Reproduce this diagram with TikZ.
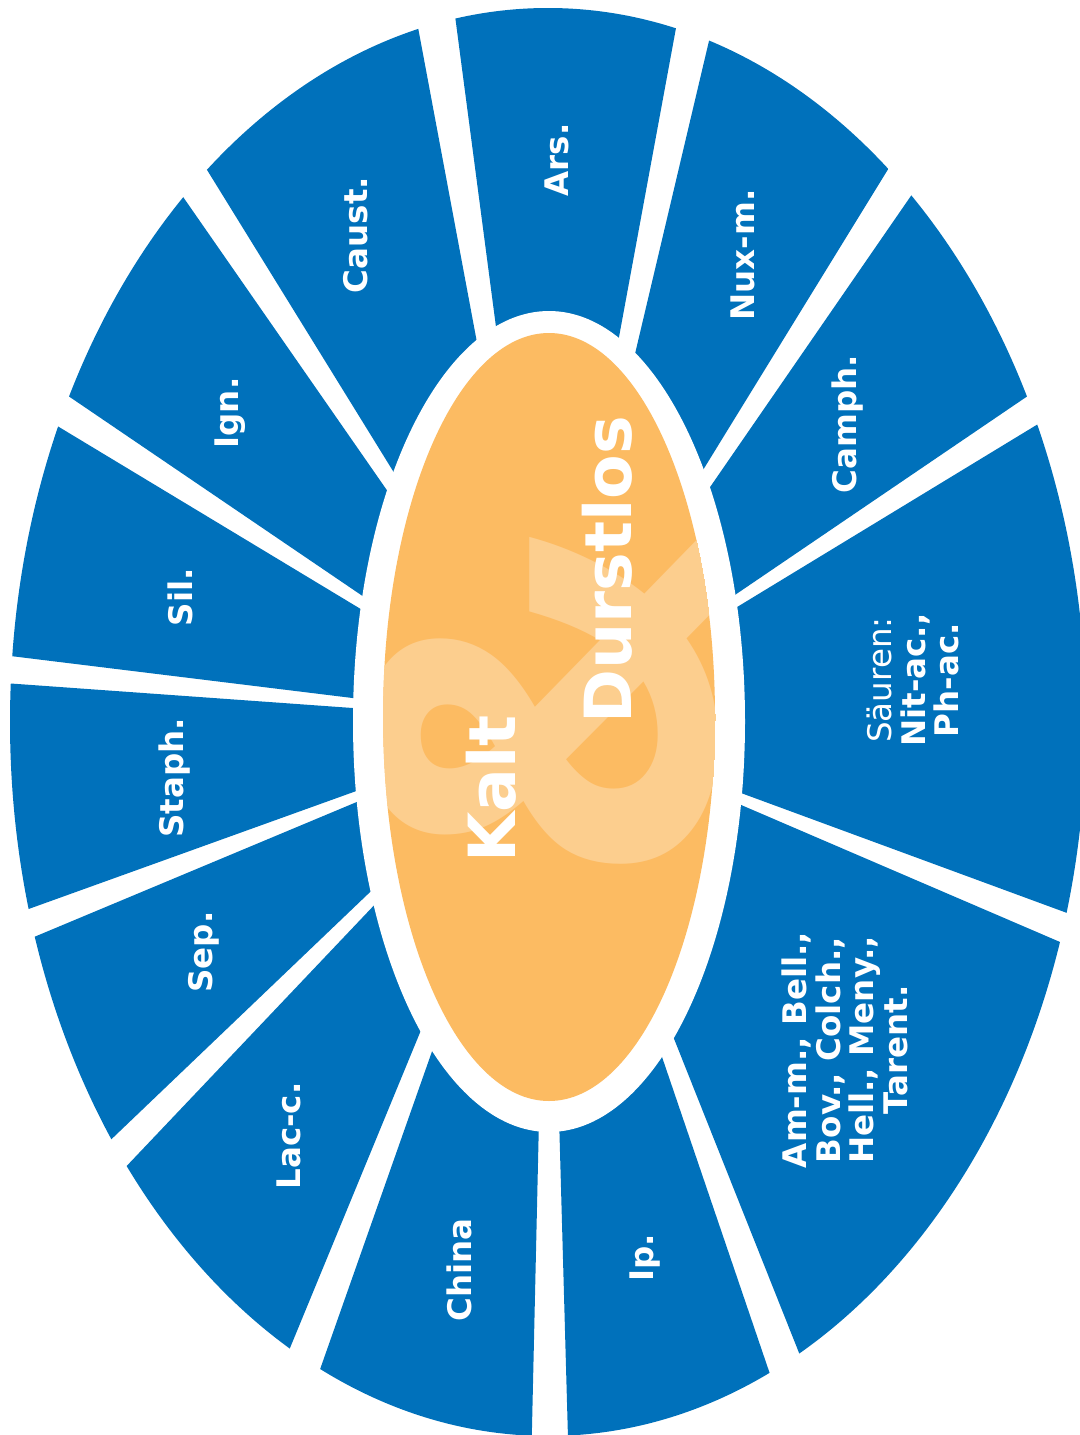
\documentclass[tikz,border=0pt]{standalone}
\usepackage{fontspec}
\setmainfont{DejaVu Sans}
\newfontfamily\ampfont{Open Sans}
\definecolor{segblue}{RGB}{0,113,187}
\definecolor{coreorange}{RGB}{252,187,98}
\definecolor{amplight}{RGB}{252,206,142}
\begin{document}
\begin{tikzpicture}[x=1pt,y=-1pt,
  seg/.style={fill=segblue},
  lbl/.style={text=white,inner sep=0pt,rotate=90,align=center,
    font=\fontsize{32.5}{33.5}\selectfont\bfseries},
  big/.style={text=white,inner sep=0pt,rotate=90,
    font=\fontsize{65}{70}\selectfont\bfseries},
  amp/.style={text=amplight,inner sep=0pt,rotate=90,
    font=\ampfont\fontsize{480}{480}\selectfont\bfseries}]
\useasboundingbox (0,0) rectangle (1079,1435);
\coordinate (C) at (548,722);
\begin{scope}
  \clip (C) ellipse [x radius=538,y radius=714];
  \foreach \a/\b in {262.5/280.45,283.3/301.6,304.6/325.8,328.7/380.2,
      23.25/68.3,71.2/88.4,91.3/109.4,112.4/133.5,136.3/157.3,
      160.2/184.1,187/211.1,214.2/235.2,238.3/259.4}
    \fill[seg,shift={(C)}] (0,0) -- (\a:1800) -- (\b:1800) -- cycle;
\end{scope}
\fill[white] (549,721.5) ellipse [x radius=196,y radius=410.5];
\fill[coreorange] (549,717) ellipse [x radius=166,y radius=384];
\begin{scope}
  \clip (549,717) ellipse [x radius=166,y radius=384];
  \node[amp] (ampersand) at (542,703) {\&};
\end{scope}
\node[lbl] (ars) at (557,160) {Ars.};
\node[lbl] (caust) at (356,235) {Caust.};
\node[lbl] (nux) at (743,255) {Nux-m.};
\node[lbl] (camph) at (848,424) {Camph.};
\node[lbl] (ign) at (230,413) {Ign.};
\node[lbl] (sil) at (180,597) {Sil.};
\node[lbl] (staph) at (175,778) {Staph.};
\node[lbl] (sep) at (204,952) {Sep.};
\node[lbl] (lacc) at (289,1136) {Lac-c.};
\node[lbl] (china) at (459,1270) {China};
\node[lbl] (ip) at (645,1258) {Ip.};
\node[lbl] (saeuren) at (913,680) {{\mdseries Säuren:}\\Nit-ac.,\\Ph-ac.};
\node[lbl] (amm) at (845,1050) {Am-m., Bell.,\\Bov., Colch.,\\Hell., Meny.,\\Tarent.};
\node[big] (kalt) at (491,789) {Kalt};
\node[big] (durst) at (607,570) {Durstlos};
\end{tikzpicture}
\end{document}
